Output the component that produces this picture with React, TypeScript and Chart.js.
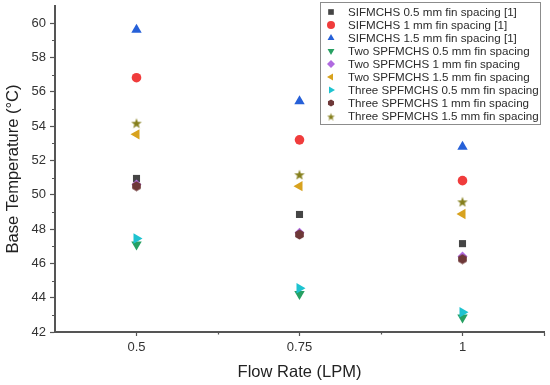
import React, { useEffect, useRef } from "react";
import { Chart, registerables } from "chart.js";
import { drawPoint } from "chart.js/helpers";

Chart.register(...registerables);

const flowRates = [0.5, 0.75, 1];

const sif05 = [50.95, 48.85, 47.15];
const sif10 = [56.82, 53.2, 50.82];
const sif15 = [59.62, 55.45, 52.8];
const two05 = [47.1, 44.22, 42.85];
const two10 = [50.6, 47.78, 46.4];
const two15 = [53.52, 50.5, 48.88];
const three05 = [47.45, 44.55, 43.15];
const three10 = [50.5, 47.68, 46.25];
const three15 = [54.2, 51.2, 49.62];

const seriesLabels = [
  "SIFMCHS 0.5 mm fin spacing [1]",
  "SIFMCHS 1 mm fin spacing [1]",
  "SIFMCHS 1.5 mm fin spacing [1]",
  "Two SPFMCHS 0.5 mm fin spacing",
  "Two SPFMCHS 1 mm fin spacing",
  "Two SPFMCHS 1.5 mm fin spacing",
  "Three SPFMCHS 0.5 mm fin spacing",
  "Three SPFMCHS 1 mm fin spacing",
  "Three SPFMCHS 1.5 mm fin spacing",
];

const seriesValues = [sif05, sif10, sif15, two05, two10, two15, three05, three10, three15];

const xTickValues = [0.375, 0.5, 0.625, 0.75, 0.875, 1, 1.125];
const xMajor = [0.5, 0.75, 1, 1.125];
const xTickLabels: Record<string, string> = { "0.5": "0.5", "0.75": "0.75", "1": "1" };

const FONT = "'Liberation Sans', Arial, sans-serif";
const AXIS = "#555555";

function polygonCanvas(size: number, color: string, kind: "hex" | "star"): HTMLCanvasElement {
  const c = document.createElement("canvas");
  c.width = size;
  c.height = size;
  const ctx = c.getContext("2d")!;
  const cx = size / 2;
  const cy = size / 2;
  const r = size / 2 - 0.5;
  ctx.fillStyle = color;
  ctx.beginPath();
  if (kind === "hex") {
    for (let i = 0; i < 6; i++) {
      const a = (Math.PI / 3) * i - Math.PI / 2;
      const px = cx + r * Math.cos(a);
      const py = cy + r * Math.sin(a);
      if (i === 0) ctx.moveTo(px, py);
      else ctx.lineTo(px, py);
    }
  } else {
    for (let i = 0; i < 10; i++) {
      const rr = i % 2 === 0 ? r : r * 0.42;
      const a = (Math.PI / 5) * i - Math.PI / 2;
      const px = cx + rr * Math.cos(a);
      const py = cy + 1 + rr * Math.sin(a);
      if (i === 0) ctx.moveTo(px, py);
      else ctx.lineTo(px, py);
    }
  }
  ctx.closePath();
  ctx.fill();
  return c;
}

export default function App() {
  const ref = useRef<HTMLCanvasElement>(null);

  useEffect(() => {
    document.body.style.margin = "0";
    const colors = [
      "#454545",
      "#f03c3c",
      "#2660d8",
      "#27a062",
      "#b06ae0",
      "#d8a21e",
      "#1ec3d0",
      "#6e3838",
      "#857f1c",
    ];
    const hexBig = polygonCanvas(11, colors[7], "hex");
    const starBig = polygonCanvas(12, colors[8], "star");
    const hexSmall = polygonCanvas(8, colors[7], "hex");
    const starSmall = polygonCanvas(9, colors[8], "star");

    const styles: any[] = ["rect", "circle", "triangle", "triangle", "rectRot", "triangle", "triangle", hexBig, starBig];
    const legendStyles: any[] = ["rect", "circle", "triangle", "triangle", "rectRot", "triangle", "triangle", hexSmall, starSmall];
    const rotations = [0, 0, 0, 180, 0, -90, 90, 0, 0];
    const radii = [5, 4.8, 6, 6, 5, 6, 6, 5, 5];

    const datasets = seriesLabels.map((label, i) => ({
      label,
      data: flowRates.map((x, j) => ({ x, y: seriesValues[i][j] })),
      showLine: false,
      pointStyle: styles[i],
      rotation: rotations[i],
      pointRadius: radii[i],
      pointBackgroundColor: colors[i],
      pointBorderColor: colors[i],
      pointBorderWidth: 0,
      order: 20 - i,
    }));

    const minorTickPlugin = {
      id: "minorTicks",
      afterDraw(chart: any) {
        const ctx = chart.ctx as CanvasRenderingContext2D;
        const xs = chart.scales.x;
        const ys = chart.scales.y;
        const ca = chart.chartArea;
        ctx.save();
        ctx.strokeStyle = AXIS;
        ctx.lineWidth = 1.2;
        ctx.beginPath();
        for (let v = 43; v < 61; v += 2) {
          const py = Math.round(ys.getPixelForValue(v)) + 0.5;
          ctx.moveTo(ca.left - 3, py);
          ctx.lineTo(ca.left, py);
        }
        [0.625, 0.875].forEach((v) => {
          const px = Math.round(xs.getPixelForValue(v)) + 0.5;
          ctx.moveTo(px, ca.bottom);
          ctx.lineTo(px, ca.bottom + 2.5);
        });
        ctx.stroke();
        ctx.restore();
      },
    };

    const legendPlugin = {
      id: "insideLegend",
      afterDraw(chart: any) {
        const ctx = chart.ctx as CanvasRenderingContext2D;
        const ca = chart.chartArea;
        const right = ca.right - 4;
        const left = right - 220;
        const top = ca.top - 4;
        const rowH = 13;
        const height = rowH * seriesLabels.length + 5;
        ctx.save();
        ctx.fillStyle = "#ffffff";
        ctx.fillRect(left, top, right - left, height);
        ctx.strokeStyle = "#8c8c8c";
        ctx.lineWidth = 1;
        ctx.strokeRect(left + 0.5, top + 0.5, right - left, height);
        ctx.font = `11.6px ${FONT}`;
        ctx.textBaseline = "middle";
        ctx.textAlign = "left";
        seriesLabels.forEach((label, i) => {
          const y = top + 10 + i * rowH;
          ctx.fillStyle = colors[i];
          ctx.strokeStyle = colors[i];
          drawPoint(
            ctx,
            { pointStyle: legendStyles[i], rotation: rotations[i], radius: 4, borderWidth: 0 } as any,
            left + 11,
            y
          );
          ctx.fillStyle = "#2b2b2b";
          ctx.fillText(label, left + 28, y + 0.5);
        });
        ctx.restore();
      },
    };

    const chart = new Chart(ref.current!, {
      type: "scatter",
      data: { datasets: datasets as any },
      options: {
        animation: false,
        responsive: false,
        devicePixelRatio: 1,
        layout: { padding: { top: 5, right: 4.5, left: 0, bottom: 0 } },
        plugins: {
          legend: { display: false },
          tooltip: { enabled: false },
        },
        scales: {
          x: {
            type: "linear",
            min: 0.375,
            max: 1.125,
            afterBuildTicks: (scale: any) => {
              scale.ticks = xTickValues.map((v) => ({ value: v }));
            },
            afterFit: (scale: any) => {
              scale.height = 53;
              scale.paddingLeft = 0;
              scale.paddingRight = 0;
            },
            ticks: {
              autoSkip: false,
              maxRotation: 0,
              padding: 4,
              color: "#333333",
              font: { family: FONT, size: 13 },
              callback: (v: any) => xTickLabels[String(v)] ?? "",
            },
            grid: {
              drawOnChartArea: false,
              tickLength: 4,
              tickColor: (c: any) => (c.tick && xMajor.includes(c.tick.value) ? AXIS : "rgba(0,0,0,0)"),
              tickWidth: 1.2,
            },
            border: { display: true, color: AXIS, width: 2 },
            title: {
              display: true,
              text: "Flow Rate (LPM)",
              color: "#222222",
              font: { family: FONT, size: 16.5 },
              padding: { top: 0, bottom: 3 },
            },
          },
          y: {
            type: "linear",
            min: 42,
            max: 61,
            afterFit: (scale: any) => {
              scale.width = 55;
              scale.paddingTop = 0;
              scale.paddingBottom = 0;
            },
            ticks: {
              stepSize: 1,
              autoSkip: false,
              padding: 4,
              color: "#333333",
              font: { family: FONT, size: 13 },
              callback: (v: any) => (Number(v) % 2 === 0 ? String(v) : ""),
            },
            grid: {
              drawOnChartArea: false,
              tickLength: 5,
              tickColor: (c: any) => (c.tick && c.tick.value % 2 === 0 ? AXIS : "rgba(0,0,0,0)"),
              tickWidth: 1.2,
            },
            border: { display: true, color: AXIS, width: 2 },
            title: {
              display: true,
              text: "Base Temperature (°C)",
              color: "#222222",
              font: { family: FONT, size: 16.5 },
              padding: { top: 4, bottom: 0 },
            },
          },
        },
      },
      plugins: [minorTickPlugin, legendPlugin],
    });

    return () => chart.destroy();
  }, []);

  return (
    <div style={{ width: 550, height: 385 }}>
      <canvas ref={ref} width={550} height={385} style={{ display: "block", width: 550, height: 385 }} />
    </div>
  );
}
